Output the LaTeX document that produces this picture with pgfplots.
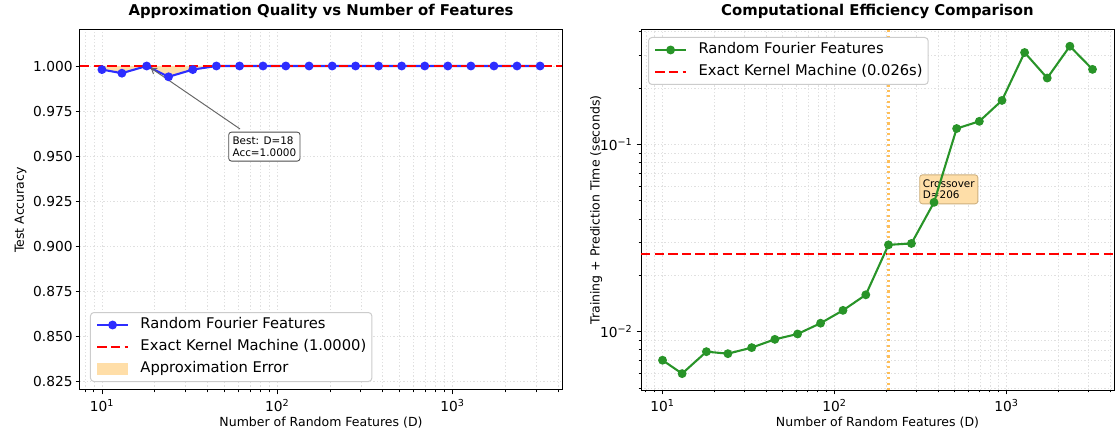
\documentclass[border=0pt]{standalone}
\usepackage{fontspec}
\setmainfont{DejaVu Sans}
\usepackage{pgfplots}
\pgfplotsset{compat=1.18}
\usetikzlibrary{arrows.meta}
\definecolor{rffblue}{RGB}{45,45,255}
\definecolor{rffgreen}{RGB}{40,148,40}
\definecolor{errfill}{RGB}{255,222,168}
\definecolor{gridc}{RGB}{224,224,224}
\definecolor{xorange}{RGB}{255,180,60}
\definecolor{boxfill}{RGB}{254,222,168}
\definecolor{boxedge}{RGB}{205,175,125}
\definecolor{exred}{RGB}{255,0,0}

\pgfplotsset{
  mystyle/.style={
    scale only axis,
    tick align=outside,
    tick pos=left,
    major tick length=3.15pt,
    minor tick length=1.8pt,
    every tick/.style={black, line width=0.6pt},
    axis line style={line width=0.72pt, black},
    tick label style={font=\fontsize{9.9}{12}\selectfont, inner sep=0pt},
    label style={font=\fontsize{9}{11}\selectfont},
    title style={font=\bfseries\fontsize{10.7}{13}\selectfont, at={(0.5,1)}, anchor=base, yshift=4.3pt},
    xlabel style={at={(axis description cs:0.5,0)}, anchor=base, yshift=-26.6pt},
    major grid style={gridc, dash pattern=on 1pt off 1.4pt, line width=0.55pt},
    minor grid style={gridc, dash pattern=on 1pt off 1.4pt, line width=0.45pt},
    xticklabel shift=3.6pt,
    legend cell align=left,
    legend style={draw=black!20, line width=0.72pt, rounded corners=2.5pt, fill=white,
      font=\fontsize{10.6}{13}\selectfont, inner xsep=4pt, inner ysep=2.6pt,
      column sep=8.2pt, row sep=3.04pt,
      nodes={text height=8pt, text depth=2.8pt, inner ysep=1pt, inner xsep=0pt}},
    legend image code/.code={\draw[sharp corners, mark repeat=2, mark phase=2, ##1] plot coordinates {(0pt,0pt) (11pt,0pt) (22pt,0pt)};},
  }
}

\begin{document}
\begin{tikzpicture}
\begin{axis}[mystyle,
  at={(0,0)}, anchor=south west,
  width=347.04pt, height=259.2pt,
  xmode=log, xmin=7.4989, xmax=4216.97,
  ymin=0.82, ymax=1.02,
  xtick={10,100,1000},
  xticklabels={10\textsuperscript{1},10\textsuperscript{2},10\textsuperscript{3}},
  minor xtick={8,9,20,30,40,50,60,70,80,90,200,300,400,500,600,700,800,900,2000,3000,4000},
  ytick={0.825,0.85,0.875,0.9,0.925,0.95,0.975,1.0},
  yticklabel style={/pgf/number format/.cd, fixed, fixed zerofill, precision=3, assume math mode=true},
  yticklabel shift=2pt,
  xmajorgrids, xminorgrids, ymajorgrids,
  title={Approximation Quality vs Number of Features},
  xlabel={Number of Random Features (D)},
  ylabel={Test Accuracy},
  ylabel style={at={(axis description cs:-0.1162,0.5)}, anchor=base},
  legend style={at={(0.0207,0.0222)}, anchor=south west},
]
\addplot[fill=errfill, draw=none, forget plot] coordinates {
  (10,0.998) (13,0.996) (18,1.000) (24,0.994) (33,0.998) (45,1.000) (10,1.000)};
\addplot[rffblue, line width=1.5pt, mark=*, mark size=2.4pt, mark options={solid, fill=rffblue, draw=rffblue}] coordinates {
  (10,0.998) (13,0.996) (18,1.000) (24,0.994) (33,0.998) (45,1.000) (61,1.000) (83,1.000)
  (112,1.000) (152,1.000) (206,1.000) (280,1.000) (379,1.000) (513,1.000) (695,1.000)
  (941,1.000) (1274,1.000) (1725,1.000) (2335,1.000) (3162,1.000)};
\addlegendentry{Random Fourier Features}
\addplot[exred, line width=1.8pt, dash pattern=on 6.7pt off 3.1pt] coordinates {(7.4989,1.0) (4216.97,1.0)};
\addlegendentry{Exact Kernel Machine (1.0000)}
\addlegendimage{legend image code/.code={\fill[errfill, sharp corners] (0pt,-4.2pt) rectangle (22pt,4.2pt);}}
\addlegendentry{Approximation Error}
\draw[black!60, line width=0.7pt, -{Straight Barb[length=3.5pt,width=5pt]}] (axis cs:61.4,0.965) -- (axis cs:19,0.9989);
\node[anchor=north west, draw=black!70, fill=white, rounded corners=2pt, inner xsep=2.8pt, inner ysep=3.4pt,
  align=left, font=\fontsize{7.5}{8.4}\selectfont, line width=0.6pt] at (axis cs:52.6,0.9635) {Best: D=18\\Acc=1.0000};
\end{axis}

\begin{axis}[mystyle,
  at={(403.92pt,0)}, anchor=south west,
  width=340.56pt, height=259.2pt,
  xmode=log, ymode=log,
  xmin=7.4989, xmax=4216.97,
  ymin=0.00488, ymax=0.409,
  xtick={10,100,1000},
  xticklabels={10\textsuperscript{1},10\textsuperscript{2},10\textsuperscript{3}},
  minor xtick={8,9,20,30,40,50,60,70,80,90,200,300,400,500,600,700,800,900,2000,3000,4000},
  ytick={0.01,0.1},
  yticklabels={10\textsuperscript{−2},10\textsuperscript{−1}},
  minor ytick={0.005,0.006,0.007,0.008,0.009,0.02,0.03,0.04,0.05,0.06,0.07,0.08,0.09,0.2,0.3,0.4},
  yticklabel shift=2.8pt,
  grid=both,
  title={Computational Efficiency Comparison},
  xlabel={Number of Random Features (D)},
  ylabel={Training + Prediction Time (seconds)},
  ylabel style={at={(axis description cs:-0.0877,0.5)}, anchor=base},
  legend style={at={(0.0148,0.9806)}, anchor=north west},
]
\node[anchor=north west, draw=boxedge, fill=boxfill, rounded corners=2pt, inner xsep=2.3pt, inner ysep=3.4pt,
  align=left, font=\fontsize{7.5}{8.4}\selectfont, line width=0.6pt] at (axis cs:311,0.0692) {Crossover\\D≈206};
\addplot[rffgreen, line width=1.5pt, mark=*, mark size=2.4pt, mark options={solid, fill=rffgreen, draw=rffgreen}] coordinates {
  (10,0.00704) (13,0.00597) (18,0.00782) (24,0.00763) (33,0.00822) (45,0.00910) (61,0.00972)
  (83,0.0111) (112,0.0130) (152,0.01574) (206,0.0291) (280,0.0296) (379,0.0491) (513,0.1217)
  (695,0.133) (941,0.172) (1274,0.310) (1725,0.2265) (2335,0.335) (3162,0.252)};
\addlegendentry{Random Fourier Features}
\addplot[exred, line width=1.8pt, dash pattern=on 6.7pt off 3.1pt] coordinates {(7.4989,0.026) (4216.97,0.026)};
\addlegendentry{Exact Kernel Machine (0.026s)}
\addplot[xorange, opacity=0.85, line width=1.6pt, dash pattern=on 1.5pt off 2.4pt, forget plot] coordinates {(206,0.00488) (206,0.409)};
\end{axis}
\pgfresetboundingbox
\path[use as bounding box] (-57.6pt,-31.68pt) rectangle (745.2pt,280.8pt);
\end{tikzpicture}
\end{document}
